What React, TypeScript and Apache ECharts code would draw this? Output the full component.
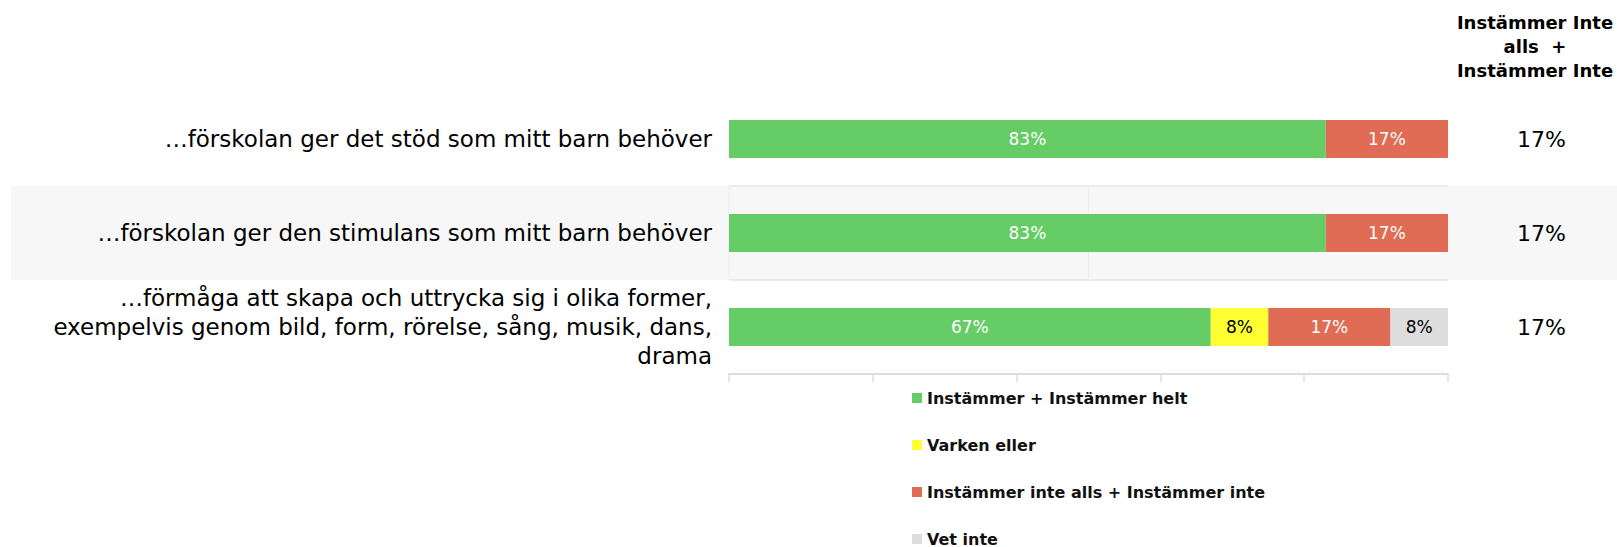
import React, { useEffect, useRef } from "react";
import * as echarts from "echarts";

const categories = [
  "…förskolan ger det stöd som mitt barn behöver",
  "…förskolan ger den stimulans som mitt barn behöver",
  "…förmåga att skapa och uttrycka sig i olika former,\nexempelvis genom bild, form, rörelse, sång, musik, dans,\ndrama",
];
const seriesNames = [
  "Instämmer + Instämmer helt",
  "Varken eller",
  "Instämmer inte alls + Instämmer inte",
  "Vet inte",
];
const agreeValues = [83, 83, 67];
const neutralValues = [0, 0, 8];
const disagreeValues = [17, 17, 17];
const dontKnowValues = [0, 0, 8];
const disagreeTotals = ["17%", "17%", "17%"];
const headerText = "Instämmer Inte\nalls  +\nInstämmer Inte";
const xTicks = [0, 20, 40, 60, 80, 100];

const colors = ["#66cc66", "#ffff33", "#e06c55", "#dddddd"];
const labelColors = ["#ffffff", "#000000", "#ffffff", "#000000"];
const FONT = '"DejaVu Sans", "Noto Sans", sans-serif';

export default function App() {
  const ref = useRef<HTMLDivElement>(null);
  useEffect(() => {
    if (!ref.current) return;
    const chart = echarts.init(ref.current, undefined, { renderer: "svg" });
    const dataSets = [agreeValues, neutralValues, disagreeValues, dontKnowValues];
    chart.setOption({
      animation: false,
      backgroundColor: "#ffffff",
      grid: { left: 729, right: 169, top: 92, bottom: 173, containLabel: false },
      xAxis: {
        type: "value",
        min: xTicks[0],
        max: xTicks[xTicks.length - 1],
        interval: 20,
        axisLabel: { show: false },
        axisLine: { show: true, lineStyle: { color: "#dddddd", width: 2 } },
        axisTick: { show: true, length: 8, lineStyle: { color: "#dddddd", width: 1.5 } },
        splitLine: { show: false },
      },
      yAxis: [
        {
          type: "category",
          inverse: true,
          data: categories,
          axisLine: { show: false },
          axisTick: { show: false },
          splitLine: { show: false },
          axisLabel: {
            margin: 17,
            color: "#000000",
            fontFamily: FONT,
            fontSize: 23,
            lineHeight: 29,
            align: "right",
          },
        },
        {
          type: "category",
          inverse: true,
          position: "right",
          data: disagreeTotals,
          axisLine: { show: false },
          axisTick: { show: false },
          splitLine: { show: false },
          axisLabel: {
            margin: 69,
            color: "#000000",
            fontFamily: FONT,
            fontSize: 22,
            align: "left",
          },
        },
      ],
      legend: {
        orient: "vertical",
        left: 912,
        top: 390,
        height: 200,
        padding: 0,
        itemWidth: 10,
        itemHeight: 10,
        itemGap: 31,
        icon: "rect",
        data: seriesNames,
        textStyle: {
          fontFamily: FONT,
          fontSize: 16,
          fontWeight: "bold",
          color: "#111111",
          lineHeight: 16,
        },
      },
      series: seriesNames.map((name, i) => ({
        name,
        type: "bar",
        stack: "total",
        barWidth: 38,
        yAxisIndex: 0,
        itemStyle: { color: colors[i] },
        label: {
          show: true,
          position: "inside",
          color: labelColors[i],
          fontFamily: FONT,
          fontSize: 17,
          formatter: (p: any) => (p.value > 0 ? p.value + "%" : ""),
        },
        data: dataSets[i],
      })),
    });

    const yc0 = chart.convertToPixel({ yAxisIndex: 0 }, categories[0]) as number;
    const yc1 = chart.convertToPixel({ yAxisIndex: 0 }, categories[1]) as number;
    const step = yc1 - yc0;
    const top = yc1 - step / 2;
    const bottom = yc1 + step / 2;
    const xL = chart.convertToPixel({ xAxisIndex: 0 }, 0) as number;
    const xR = chart.convertToPixel({ xAxisIndex: 0 }, 100) as number;
    const xM = chart.convertToPixel({ xAxisIndex: 0 }, 50) as number;

    chart.setOption({
      graphic: [
        {
          type: "rect",
          z: -10,
          silent: true,
          shape: { x: 11, y: top, width: 1617 - 11, height: step },
          style: { fill: "#f7f7f7" },
        },
        {
          type: "line",
          z: -5,
          silent: true,
          shape: { x1: xL, y1: top, x2: xR, y2: top },
          style: { stroke: "#e6e6e6", lineWidth: 1.5 },
        },
        {
          type: "line",
          z: -5,
          silent: true,
          shape: { x1: xL, y1: bottom, x2: xR, y2: bottom },
          style: { stroke: "#e6e6e6", lineWidth: 1.5 },
        },
        {
          type: "line",
          z: -5,
          silent: true,
          shape: { x1: xM, y1: top, x2: xM, y2: bottom },
          style: { stroke: "#ececec", lineWidth: 1 },
        },
        {
          type: "line",
          z: -5,
          silent: true,
          shape: { x1: xL, y1: top, x2: xL, y2: bottom },
          style: { stroke: "#ececec", lineWidth: 1 },
        },
        {
          type: "text",
          x: 1535,
          y: 10,
          style: {
            text: headerText,
            fontFamily: FONT,
            fontSize: 18,
            fontWeight: "bold",
            lineHeight: 24,
            fill: "#000000",
            align: "center",
            verticalAlign: "top",
          },
        },
      ],
    });

    return () => chart.dispose();
  }, []);

  return (
    <div
      ref={ref}
      style={{ position: "absolute", left: 0, top: 0, width: 1617, height: 547 }}
    />
  );
}
